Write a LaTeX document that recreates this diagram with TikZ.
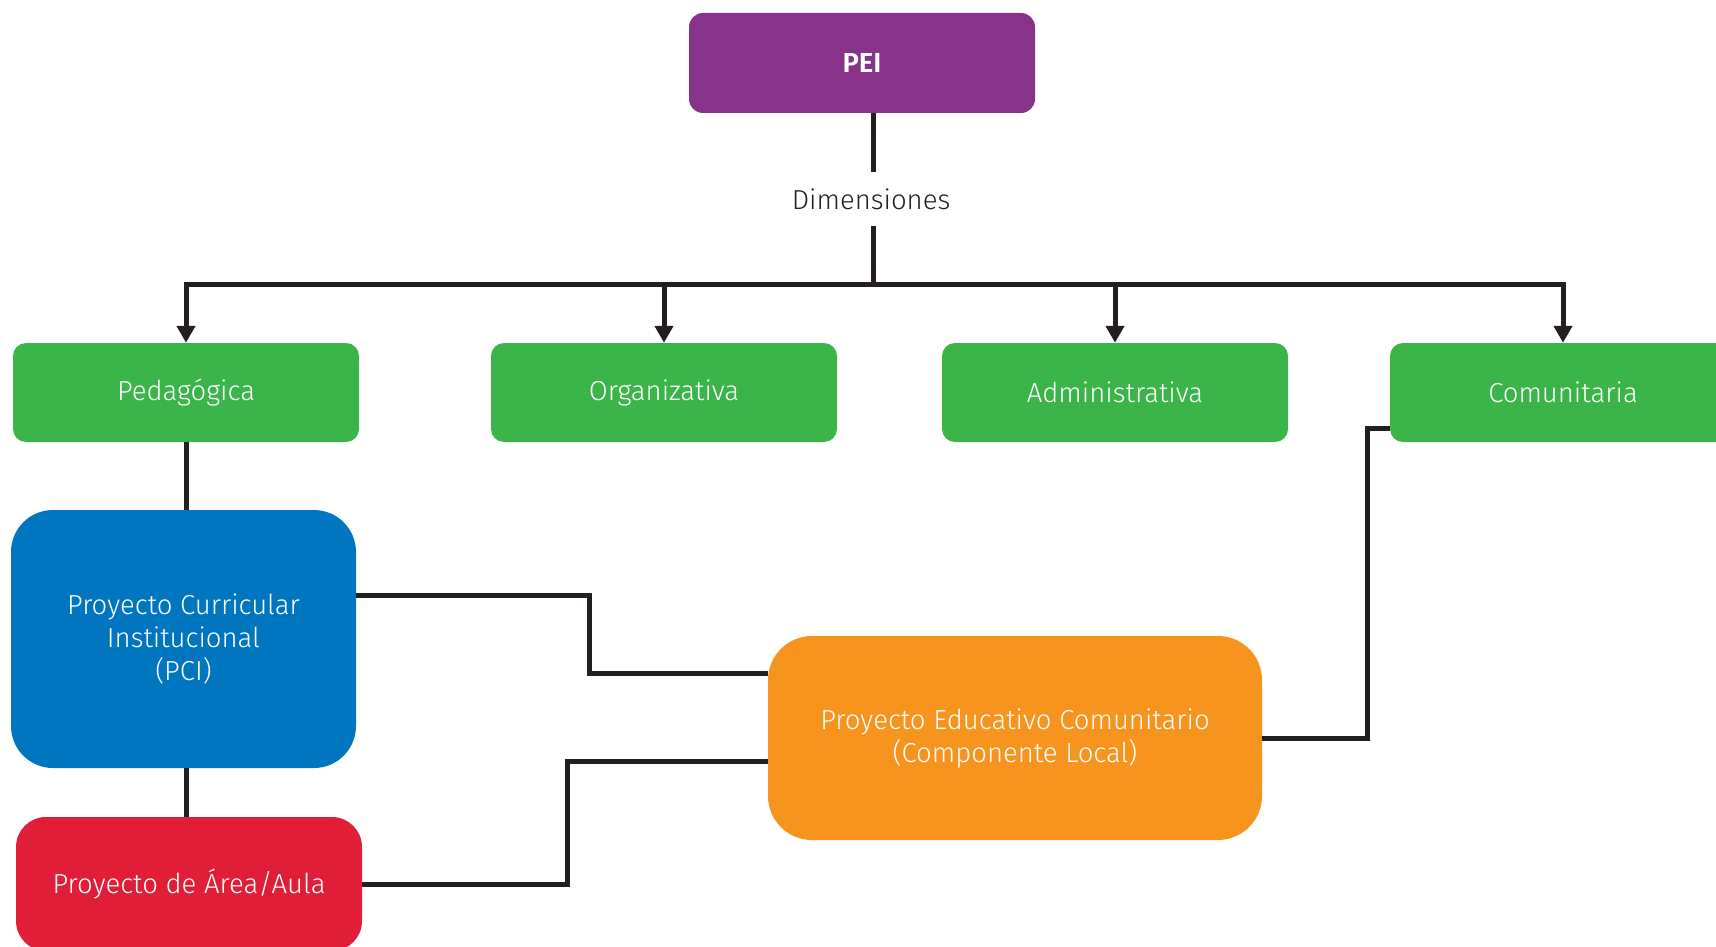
\documentclass[tikz,border=0pt]{standalone}
\usepackage{fontspec}
\setmainfont{Fira Sans}[UprightFont=* Light, BoldFont=* SemiBold]
\usetikzlibrary{arrows.meta}
\definecolor{peiPurple}{HTML}{87338A}
\definecolor{dimGreen}{HTML}{3BB54A}
\definecolor{pciBlue}{HTML}{0076C0}
\definecolor{pecOrange}{HTML}{F7941E}
\definecolor{areaRed}{HTML}{E01E38}
\definecolor{lineDark}{HTML}{231F20}
\newcommand{\boxFont}[0]{\fontsize{27.5}{33}\selectfont}
\newcommand{\lineWidth}[0]{5pt}

\begin{document}
\begin{tikzpicture}[x=1pt, y=-1pt]
  \tikzset{
    box/.style={text=white, align=center, font=\boxFont, inner sep=0pt},
    dimbox/.style={box, fill=dimGreen, minimum width=346pt, minimum height=99pt, rounded corners=13pt},
    link/.style={draw=lineDark, line width=\lineWidth},
    arr/.style={link, -{Triangle[length=17pt, width=18pt]}}
  }
  \useasboundingbox (0,0) rectangle (1716,947);
  % top of the tree
  \node[box, fill=peiPurple, minimum width=346pt, minimum height=100pt, rounded corners=14pt, font=\boxFont\bfseries] (pei) at (862,63) {PEI};
  \node[font=\boxFont, text=lineDark, minimum height=54pt, inner sep=0pt] (dim) at (871,199) {Dimensiones};
  \coordinate (bus) at (873,284);
  % dimensions
  \node[dimbox] (ped) at (186,392.5) {Pedagógica};
  \node[dimbox] (org) at (664,392.5) {Organizativa};
  \node[dimbox] (adm) at (1115,392.5) {Administrativa};
  \node[dimbox] (com) at (1563,392.5) {Comunitaria};
  % projects
  \node[box, fill=pciBlue, minimum width=345pt, minimum height=258pt, rounded corners=42pt] (pci) at (183.5,639) {Proyecto Curricular\\Institucional\\(PCI)};
  \node[box, fill=areaRed, minimum width=346pt, minimum height=134pt, rounded corners=30pt] (area) at (189,884) {Proyecto de Área/Aula};
  \node[box, fill=pecOrange, minimum width=494pt, minimum height=204pt, rounded corners=44pt] (pec) at (1015,738) {Proyecto Educativo Comunitario\\(Componente Local)};

  \draw[link] (pei.south -| bus) -- (dim.north -| bus);
  \draw[link] (dim.south -| bus) -- (bus);
  \foreach \d in {ped,org,adm,com}
    \draw[arr] (bus) -| (\d.north);
  \draw[link] (ped.south) -- (ped.south |- pci.north);
  \draw[link] (pci.south -| ped.south) -- (area.north -| ped.south);
  \draw[link] ([yshift=44pt]pci.east) -- ++(233,0) |- ([yshift=65pt]pec.west);
  \draw[link] (area.east) -- ++(205,0) |- ([yshift=-23pt]pec.west);
  \draw[link] ([yshift=-36pt]com.west) -- ++(-22,0) |- (pec.east);
\end{tikzpicture}
\end{document}
